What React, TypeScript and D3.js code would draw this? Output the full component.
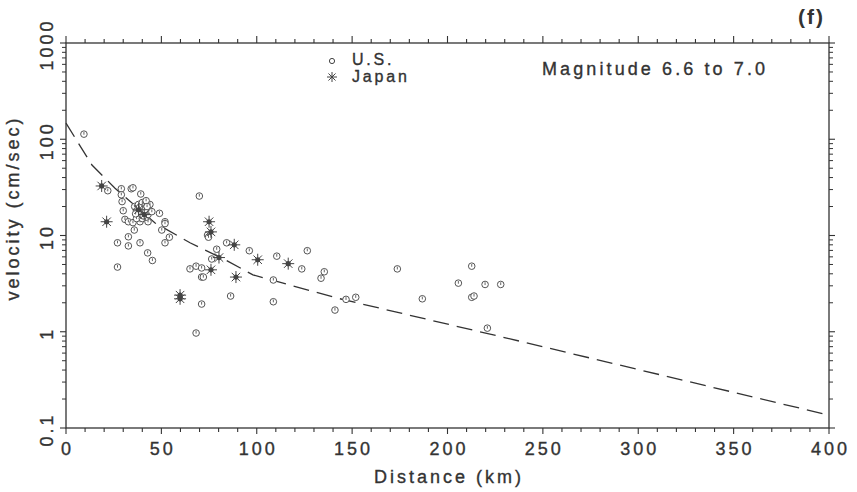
import React from "react";
import * as d3 from "d3";

const usDist = [9.4, 21.9, 29.0, 29.0, 29.4, 34.2, 35.1, 39.2, 30.0, 30.9, 32.7, 35.1, 35.8, 38.8, 43.0, 49.0, 51.9, 51.9, 50.2, 51.9, 54.2, 32.7, 27.0, 32.7, 38.8, 42.8, 45.3, 27.0, 69.9, 74.2, 74.7, 84.2, 79.0, 76.4, 96.1, 110.5, 126.5, 123.6, 135.4, 133.7, 65.0, 68.2, 71.1, 71.1, 72.0, 108.7, 71.1, 86.3, 108.7, 68.2, 141.0, 146.8, 151.9, 173.7, 186.8, 212.7, 205.7, 219.7, 227.9, 212.7, 213.9, 220.9,
  36, 37, 38, 38, 39, 39, 40, 40, 41, 41, 42, 42, 43, 43, 44, 44, 37, 40, 45, 42, 38.5, 39.5, 40.5, 41.5, 42.5, 36.5];
const usVel = [113, 29.2, 30.6, 26.5, 22.5, 30.6, 31.3, 27.0, 18.1, 14.7, 13.9, 13.6, 11.4, 13.9, 13.9, 17.0, 13.9, 13.3, 11.4, 8.4, 9.6, 9.7, 8.4, 7.8, 8.4, 6.6, 5.5, 4.7, 25.7, 10.1, 9.6, 8.4, 7.2, 5.7, 6.95, 6.1, 6.95, 4.5, 4.2, 3.6, 4.5, 4.8, 4.6, 3.7, 3.7, 3.45, 1.94, 2.35, 2.05, 0.97, 1.68, 2.17, 2.28, 4.5, 2.2, 4.8, 3.2, 3.1, 3.1, 2.28, 2.35, 1.09,
  20, 18, 17, 21, 19, 16, 22, 18, 20, 17, 15.5, 21, 19, 16.5, 18, 21, 15, 15, 17.7, 23, 19.5, 17.5, 16, 18.5, 20, 16.8];

const jpDist = [18.7, 21.3, 75.0, 76.0, 88.2, 80.2, 100.5, 116.5, 76.0, 89.1, 59.8, 59.8, 38, 41];
const jpVel = [32.7, 13.9, 13.9, 10.9, 8.0, 5.9, 5.6, 5.1, 4.4, 3.7, 2.2, 2.4, 18.5, 16.5];

const curveDist = [0, 13.6, 25.7, 46.7, 65, 83.4, 98, 142, 231, 400];
const curveVel = [147, 54, 31, 13.5, 8.4, 5.6, 3.9, 2.24, 0.86, 0.136];

const xTickLabels = [0, 50, 100, 150, 200, 250, 300, 350, 400];
const yTickValues = [0.1, 1, 10, 100, 1000];
const yTickLabels = ["0.1", "1", "10", "100", "1000"];

const INK = "#333";
const FONT = "'Liberation Sans', Arial, Helvetica, sans-serif";
const TXT = { fill: INK, stroke: INK, strokeWidth: 0.35 };

export default function App() {
  const W = 857, H = 492;
  const x = d3.scaleLinear().domain([0, 400]).range([66, 829]);
  const y = d3.scaleLog().domain([0.1, 1000]).range([428, 43]);
  const [x0, x1] = x.range();
  const [yb, yt] = y.range();

  const minorX = d3.range(0, 401, 10);
  const minorY: number[] = [];
  for (let e = -1; e < 3; e++) for (let m = 2; m <= 9; m++) minorY.push(m * Math.pow(10, e));

  const curve = d3.line<number>()
    .x((_, i) => x(curveDist[i]))
    .y((_, i) => y(curveVel[i]))(curveDist);

  const star = (cx: number, cy: number, r: number, filled: boolean, key: any) => {
    const arms = d3.range(4).map((k) => {
      const a = (k * Math.PI) / 4;
      return (
        <line key={k} x1={cx - r * Math.cos(a)} y1={cy - r * Math.sin(a)} x2={cx + r * Math.cos(a)} y2={cy + r * Math.sin(a)} stroke="#444" strokeWidth={1} />
      );
    });
    return (
      <g key={key}>
        {arms}
        {filled && <circle cx={cx} cy={cy} r={2.6} fill="#444" />}
      </g>
    );
  };

  const circ = (cx: number, cy: number, key: any) => (
    <g key={key}>
      <circle cx={cx} cy={cy} r={3.3} fill="white" stroke="#555" strokeWidth={1} />
      <line x1={cx} y1={cy - 2.2} x2={cx} y2={cy + 0.6} stroke="#555" strokeWidth={0.9} />
    </g>
  );

  return (
    <svg width={W} height={H} style={{ position: "absolute", left: 0, top: 0, background: "white" }} fontFamily={FONT}>
      <rect width={W} height={H} fill="white" />
      <rect x={x0} y={yt} width={x1 - x0} height={yb - yt} fill="none" stroke={INK} strokeWidth={1.3} />
      {minorX.map((v) => {
        const major = v % 50 === 0;
        return (
          <g key={"xt" + v}>
            <line x1={x(v)} x2={x(v)} y1={yb} y2={yb + (major ? 6 : 4)} stroke={INK} strokeWidth={1.1} />
            <line x1={x(v)} x2={x(v)} y1={yt} y2={yt - (major ? 7 : 4)} stroke={INK} strokeWidth={1.1} />
          </g>
        );
      })}
      {yTickValues.map((v) => (
        <g key={"yt" + v}>
          <line x1={x0} x2={x0 - 6} y1={y(v)} y2={y(v)} stroke={INK} strokeWidth={1.1} />
          <line x1={x1} x2={x1 + 6} y1={y(v)} y2={y(v)} stroke={INK} strokeWidth={1.1} />
        </g>
      ))}
      {minorY.map((v) => (
        <g key={"ym" + v}>
          <line x1={x0} x2={x0 - 4} y1={y(v)} y2={y(v)} stroke={INK} strokeWidth={1} />
          <line x1={x1} x2={x1 + 4} y1={y(v)} y2={y(v)} stroke={INK} strokeWidth={1} />
        </g>
      ))}
      {xTickLabels.map((v) => (
        <text key={"xl" + v} x={x(v) + 1.5} y={455} textAnchor="middle" fontSize={18} letterSpacing={3} {...TXT}>
          {v}
        </text>
      ))}
      {yTickValues.map((v, i) => (
        <text key={"yl" + v} transform={`translate(53,${y(v) + 1.5}) rotate(-90)`} textAnchor="middle" fontSize={18} letterSpacing={3} {...TXT}>
          {yTickLabels[i]}
        </text>
      ))}
      <text x={449} y={483} textAnchor="middle" fontSize={18} letterSpacing={3} {...TXT}>Distance (km)</text>
      <text transform="translate(19,208) rotate(-90)" textAnchor="middle" fontSize={18} letterSpacing={3} {...TXT}>velocity (cm/sec)</text>
      <text x={798} y={24} fontSize={21} fontWeight="bold" letterSpacing={2} fill={INK}>(f)</text>
      <text x={542} y={75} fontSize={18} letterSpacing={3.1} {...TXT}>Magnitude 6.6 to 7.0</text>
      <circle cx={332} cy={61} r={2.6} fill="white" stroke="#444" strokeWidth={1} />
      {star(332, 77, 5, false, "legstar")}
      <text x={352} y={64.5} fontSize={16} letterSpacing={2.8} {...TXT}>U.S.</text>
      <text x={352} y={82} fontSize={16} letterSpacing={2.8} {...TXT}>Japan</text>
      <path d={curve || ""} fill="none" stroke={INK} strokeWidth={1.3} strokeDasharray="16,8" />
      {usDist.map((d, i) => circ(x(d), y(usVel[i]), "us" + i))}
      {jpDist.map((d, i) => star(x(d), y(jpVel[i]), 6, true, "jp" + i))}
    </svg>
  );
}
